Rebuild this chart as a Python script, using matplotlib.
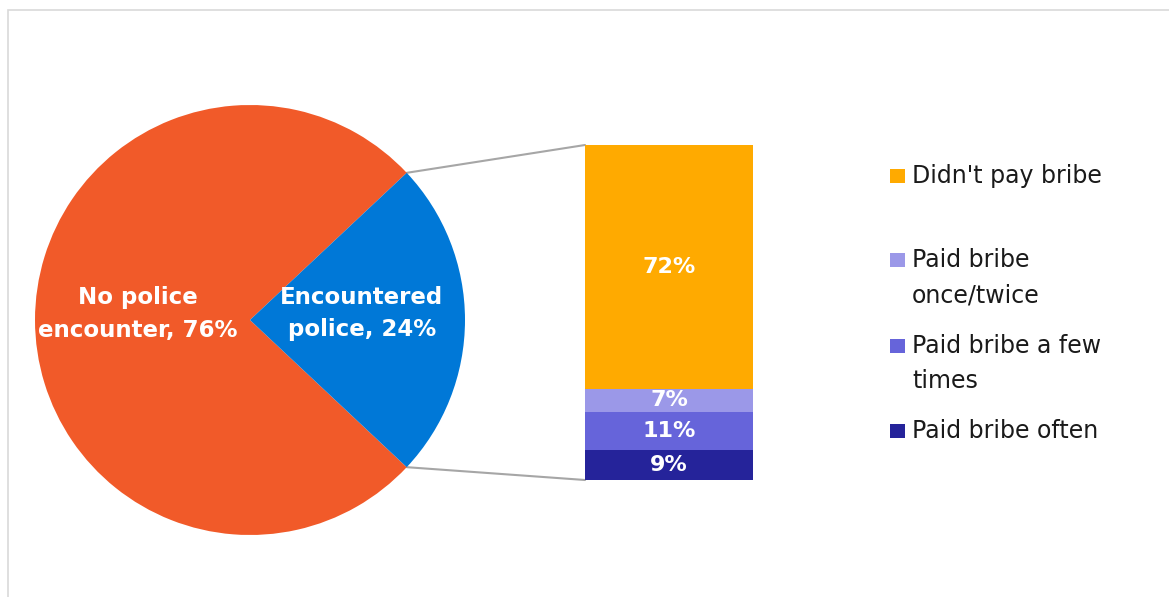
import matplotlib
matplotlib.use("Agg")
import matplotlib.pyplot as plt
from matplotlib.patches import Rectangle, ConnectionPatch
import numpy as np

# Police encounter split (pie) and bribe breakdown among those who met police (bar)
pie_labels = ["No police\nencounter, 76%", "Encountered\npolice, 24%"]
pie_values = [76, 24]
pie_colors = ["#F15A29", "#0078D7"]

bar_categories = ["Didn't pay bribe", "Paid bribe\nonce/twice",
                  "Paid bribe a few\ntimes", "Paid bribe often"]
bar_values = [72, 7, 11, 9]
bar_colors = ["#FFAA00", "#9B98E8", "#6664DA", "#25239A"]

W, H = 1169, 597
fig = plt.figure(figsize=(W / 100, H / 100), dpi=100)
fig.patch.set_facecolor("white")

FONT = "DejaVu Sans"


def fbox(x0, y0, x1, y1):
    """Pixel box (top-left origin) -> figure-fraction rect."""
    return [x0 / W, 1 - y1 / H, (x1 - x0) / W, (y1 - y0) / H]


# chart-area border (top and left edges visible)
fig.patches.append(Rectangle((8 / W, -0.1), 1.2, 1 - 10 / H + 0.1,
                             transform=fig.transFigure, fill=False,
                             edgecolor="#D9D9D9", linewidth=1.2))

# ---- pie ----
cx, cy, r = 250, 320, 215
ax_pie = fig.add_axes(fbox(cx - r, cy - r, cx + r, cy + r))
total = sum(pie_values)
start = pie_values[1] / total * 180.0
wedges, _ = ax_pie.pie(pie_values, colors=pie_colors, startangle=start,
                       counterclock=True, radius=1.0,
                       wedgeprops=dict(linewidth=0))
ax_pie.set_xlim(-1, 1)
ax_pie.set_ylim(-1, 1)
ax_pie.set_aspect("equal")
ax_pie.axis("off")

for w, lab in zip(wedges, pie_labels):
    mid = np.deg2rad((w.theta1 + w.theta2) / 2)
    ax_pie.text(0.52 * np.cos(mid), 0.52 * np.sin(mid) + 0.03, lab,
                ha="center", va="center", color="white", fontsize=16.5,
                fontweight="bold", family=FONT, linespacing=1.55)

# ---- stacked bar ----
ax_bar = fig.add_axes(fbox(585, 145, 753, 480))
bar_total = sum(bar_values)
bottom = 0
order = list(range(len(bar_values)))[::-1]  # stack from the bottom segment up
for i in order:
    v = bar_values[i]
    ax_bar.bar(0, v, bottom=bottom, width=1.0, color=bar_colors[i], linewidth=0)
    ax_bar.text(0, bottom + v / 2, f"{v}%", ha="center", va="center",
                color="white", fontsize=16, fontweight="bold", family=FONT)
    bottom += v
ax_bar.set_xlim(-0.5, 0.5)
ax_bar.set_ylim(0, bar_total)
ax_bar.axis("off")

# connector lines from the split slice to the bar
blue = wedges[1]
for ang, ybar in [(blue.theta2, bar_total), (blue.theta1, 0)]:
    a = np.deg2rad(ang)
    con = ConnectionPatch(xyA=(np.cos(a), np.sin(a)), coordsA=ax_pie.transData,
                          xyB=(-0.5, ybar), coordsB=ax_bar.transData,
                          color="#A6A6A6", linewidth=1.5, zorder=0)
    fig.add_artist(con)

# ---- legend ----
legend_y = [176, 260, 346, 431]
for y, lab, col in zip(legend_y, bar_categories, bar_colors):
    fig.patches.append(Rectangle((890 / W, 1 - (y + 7) / H), 15 / W, 14 / H,
                                 transform=fig.transFigure, facecolor=col,
                                 edgecolor="none"))
    fig.text(912 / W, 1 - (y - 12) / H, lab, ha="left", va="top",
             fontsize=17, color="#1A1A1A", family=FONT, linespacing=1.6)

fig.savefig("out.png", dpi=100, facecolor="white")
